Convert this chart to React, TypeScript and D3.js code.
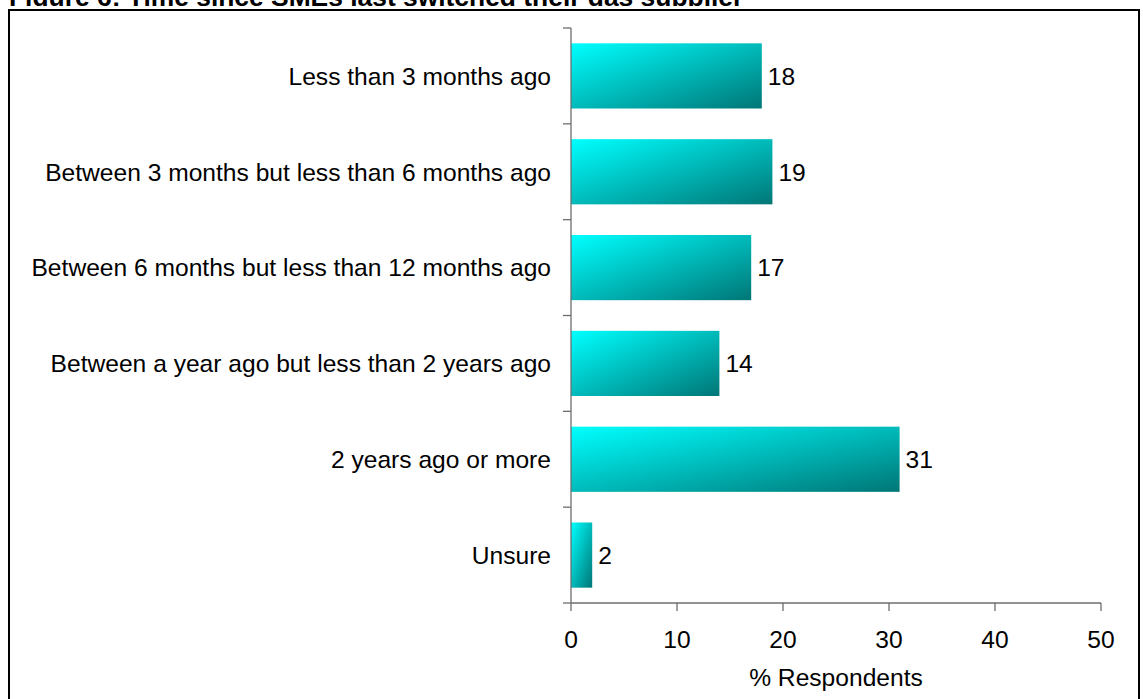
import React from "react";
import * as d3 from "d3";

// Survey categories (top to bottom) and their shares of respondents (%)
const categories: string[] = [
  "Less than 3 months ago",
  "Between 3 months but less than 6 months ago",
  "Between 6 months but less than 12 months ago",
  "Between a year ago but less than 2 years ago",
  "2 years ago or more",
  "Unsure",
];
const values: number[] = [18, 19, 17, 14, 31, 2];
const xTicks: number[] = [0, 10, 20, 30, 40, 50];

const titleText = "Figure 6: Time since SMEs last switched their gas supplier";
const xAxisTitle = "% Respondents";

const W = 1143;
const H = 699;
const FONT = "Arial, 'Liberation Sans', sans-serif";
const FS = 24.6;

export default function App() {
  const x = d3.scaleLinear().domain([0, 50]).range([571, 1101]);
  const y = d3
    .scaleBand<string>()
    .domain(categories)
    .range([28, 603])
    .paddingInner(0.32)
    .paddingOuter(0.16);

  const step = y.step();
  const boundaries = d3.range(categories.length + 1).map((i) => 28 + i * step);
  const axisColor = "#6e6e6e";

  return (
    <svg
      width={W}
      height={H}
      style={{ position: "absolute", left: 0, top: 0, display: "block", background: "#fff" }}
      fontFamily={FONT}
    >
      <defs>
        <linearGradient id="barFill" x1="0" y1="0" x2="1" y2="1">
          <stop offset="0" stopColor="#00ffff" />
          <stop offset="1" stopColor="#007676" />
        </linearGradient>
      </defs>

      {/* heading, partly hidden behind the chart frame */}
      <text x={9} y={6} fontSize={26.4} fontWeight="bold" fill="#000">
        {titleText}
      </text>
      <rect x={0} y={6} width={W} height={H} fill="#fff" />
      <rect x={9} y={10} width={1130} height={H + 20} fill="#fff" stroke="#000" strokeWidth={2} />

      {/* bars */}
      {categories.map((c, i) => (
        <rect
          key={c}
          x={x(0)}
          y={y(c)}
          width={x(values[i]) - x(0)}
          height={y.bandwidth()}
          fill="url(#barFill)"
        />
      ))}

      {/* value labels */}
      {categories.map((c, i) => (
        <text
          key={c + "-v"}
          x={x(values[i]) + 6}
          y={(y(c) as number) + y.bandwidth() / 2 + 8.8}
          fontSize={FS}
          fill="#000"
        >
          {values[i]}
        </text>
      ))}

      {/* category axis */}
      <line x1={x(0)} x2={x(0)} y1={28} y2={603} stroke={axisColor} strokeWidth={1.3} />
      {boundaries.map((b, i) => (
        <line key={"yt" + i} x1={x(0) - 8} x2={x(0)} y1={b} y2={b} stroke={axisColor} strokeWidth={1.3} />
      ))}
      {categories.map((c) => (
        <text
          key={c + "-l"}
          x={551}
          y={(y(c) as number) + y.bandwidth() / 2 + 8.8}
          fontSize={FS}
          textAnchor="end"
          fill="#000"
        >
          {c}
        </text>
      ))}

      {/* value axis */}
      <line x1={x(0)} x2={x(50)} y1={603} y2={603} stroke={axisColor} strokeWidth={1.5} />
      {xTicks.map((t) => (
        <g key={"xt" + t}>
          <line x1={x(t)} x2={x(t)} y1={603} y2={611} stroke={axisColor} strokeWidth={1.3} />
          <text x={x(t)} y={648} fontSize={FS} textAnchor="middle" fill="#000">
            {t}
          </text>
        </g>
      ))}
      <text x={(x(0) + x(50)) / 2} y={686} fontSize={FS} textAnchor="middle" fill="#000">
        {xAxisTitle}
      </text>
    </svg>
  );
}
